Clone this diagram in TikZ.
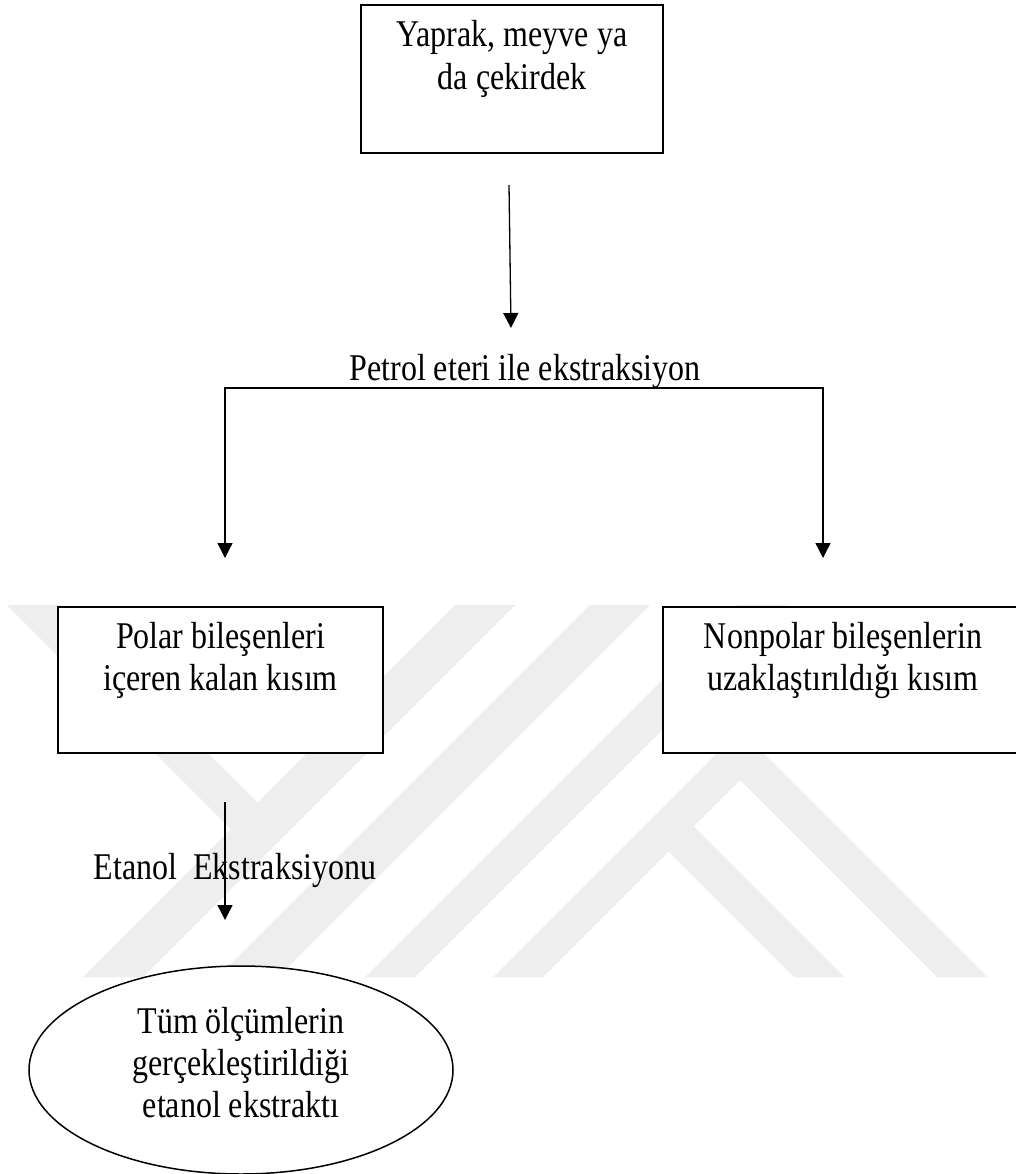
\documentclass[tikz,border=0pt]{standalone}
\usepackage{fontspec}
\usepackage{graphicx}
\setmainfont{Liberation Serif}
\usetikzlibrary{arrows.meta,shapes.geometric}
\definecolor{wm}{RGB}{238,238,238}
\newcommand{\vstretch}[1]{\scalebox{1}[1.18]{#1}}
\begin{document}
\begin{tikzpicture}[x=1pt,y=-1pt,
  every node/.style={font=\fontsize{32}{36}\selectfont},
  flowbox/.style={draw, rectangle, line width=1.8pt, fill=white, outer sep=0pt,
    inner xsep=0pt, inner ysep=0pt, anchor=north},
  ovalbox/.style={draw, ellipse, line width=1.5pt, fill=white, outer sep=0pt,
    inner sep=0pt, minimum width=424pt, minimum height=208pt,
    text height=30pt, text depth=104pt},
  lbl/.style={anchor=base, inner sep=0pt},
  conn/.style={line width=1.3pt, -{Triangle[length=15pt,width=15pt]}},
  wmark/.style={fill=wm, draw=none}
]
\useasboundingbox (0,0) rectangle (1016,1174);
\fill[white] (0,0) rectangle (1016,1174);
\clip (0,0) rectangle (1016,1174);

% faint background watermark
\fill[wmark] (455,605) -- (515,605) -- (143,977) -- (83,977) -- cycle;
\fill[wmark] (7,605) -- (60,605) -- (267.5,812.5) -- (241,839) -- cycle;
\fill[wmark] (590,605) -- (650,605) -- (278,977) -- (218,977) -- cycle;
\fill[wmark] (737,605) -- (787,605) -- (415,977) -- (365,977) -- cycle;
\fill[wmark] (740,730) -- (987,977) -- (937,977) -- (740,780) -- (543,977) -- (493,977) -- cycle;
\fill[wmark] (683.5,816.5) -- (844,977) -- (794,977) -- (658.5,841.5) -- cycle;

% boxes
\node[flowbox, minimum width=302pt, text height=42pt, text depth=106pt] (src) at (512,5)
  {\vstretch{\begin{tabular}[t]{@{}c@{}}Yaprak, meyve ya\\da çekirdek\end{tabular}}};
\node[flowbox, minimum width=325pt, text height=41pt, text depth=105pt] (polar) at (220.5,607)
  {\vstretch{\begin{tabular}[t]{@{}c@{}}Polar bileşenleri\\içeren kalan kısım\end{tabular}}};
\node[flowbox, minimum width=360pt, text height=41pt, text depth=105pt] (nonpolar) at (843,607)
  {\vstretch{\begin{tabular}[t]{@{}c@{}}Nonpolar bileşenlerin\\uzaklaştırıldığı kısım\end{tabular}}};
\node[ovalbox] (extract) at (241,1070)
  {\vstretch{\begin{tabular}[t]{@{}c@{}}Tüm ölçümlerin\\gerçekleştirildiği\\etanol ekstraktı\end{tabular}}};

% labels
\node[lbl] (petrol) at (525,380) {\vstretch{Petrol eteri ile ekstraksiyon}};

% connectors
\coordinate (a1s) at (509,185);
\coordinate (a1e) at (511,328);
\draw[conn] (a1s) -- (a1e);

\coordinate (forkL) at (225,388);
\coordinate (forkR) at (823,388);
\coordinate (tipL) at (225,558);
\coordinate (tipR) at (823,558);
\draw[line width=1.3pt, {Triangle[length=15pt,width=15pt]}-{Triangle[length=15pt,width=15pt]}]
  (tipL) -- (forkL) -- (forkR) -- (tipR);

\coordinate (a3s) at (225,802);
\coordinate (a3e) at (225,920);
\draw[conn] (a3s) -- (a3e);

\node[lbl] (etanol) at (235,879) {\vstretch{Etanol\ \ Ekstraksiyonu}};
\end{tikzpicture}
\end{document}
